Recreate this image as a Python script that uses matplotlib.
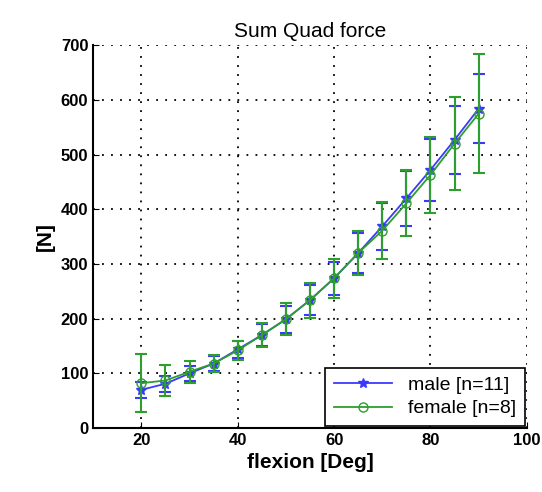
import numpy as np
import matplotlib.pyplot as plt

plt.rcParams['font.family'] = ['Liberation Sans', 'DejaVu Sans']

flexion = [20, 25, 30, 35, 40, 45, 50, 55, 60, 65, 70, 75, 80, 85, 90]
male_mean = [70, 81, 100, 118, 144, 170, 199, 234, 274, 320, 369, 420, 472, 527, 584]
male_sd = [15, 15, 14, 14, 16, 20, 25, 28, 30, 36, 43, 50, 57, 62, 63]
female_mean = [82, 87, 103, 118, 142, 170, 199, 234, 274, 320, 361, 411, 463, 520, 575]
female_sd = [53, 28, 20, 15, 17, 22, 29, 32, 36, 40, 52, 60, 70, 85, 109]

blue = '#3a3aff'
green = '#2e9e2e'

fig = plt.figure(figsize=(5.42, 4.92), dpi=100)
ax = fig.add_axes([0.172, 0.130, 0.800, 0.778])

# error bars first, then the lines (keeps legend handles clean)
ax.errorbar(flexion, male_mean, yerr=male_sd, fmt='none', ecolor=blue,
            capsize=4, elinewidth=1.5, capthick=1.5)
ax.plot(flexion, male_mean, color=blue, marker='*', markersize=7, lw=1.3,
        label='male [n=11]')
ax.errorbar(flexion, female_mean, yerr=female_sd, fmt='none', ecolor=green,
            capsize=4, elinewidth=1.5, capthick=1.5)
ax.plot(flexion, female_mean, color=green, marker='o', markersize=6.5, mfc='none',
        lw=1.3, label='female [n=8]')

ax.set_xlim(10, 100)
ax.set_ylim(0, 700)
ax.set_xticks([20, 40, 60, 80, 100])
ax.set_yticks(range(0, 701, 100))
ax.grid(True, linestyle=(0, (1, 4)), color='black', linewidth=1.3)
ax.spines['top'].set_visible(False)
ax.spines['right'].set_visible(False)
ax.spines['left'].set_linewidth(1.5)
ax.spines['bottom'].set_linewidth(1.5)
ax.tick_params(direction='in', length=4, labelsize=12)
for lbl in ax.get_xticklabels() + ax.get_yticklabels():
    lbl.set_fontweight('bold')

ax.set_title('Sum Quad force', fontsize=15)
ax.set_xlabel('flexion [Deg]', fontsize=15, fontweight='bold')
ax.set_ylabel('[N]', fontsize=15, fontweight='bold')

leg = ax.legend(loc='lower right', fontsize=14, fancybox=False, framealpha=1,
                edgecolor='black', borderaxespad=0.1, handlelength=3.0,
                labelspacing=0.3, borderpad=0.45)
leg.get_frame().set_linewidth(1.2)

fig.savefig('out.png', dpi=100)
